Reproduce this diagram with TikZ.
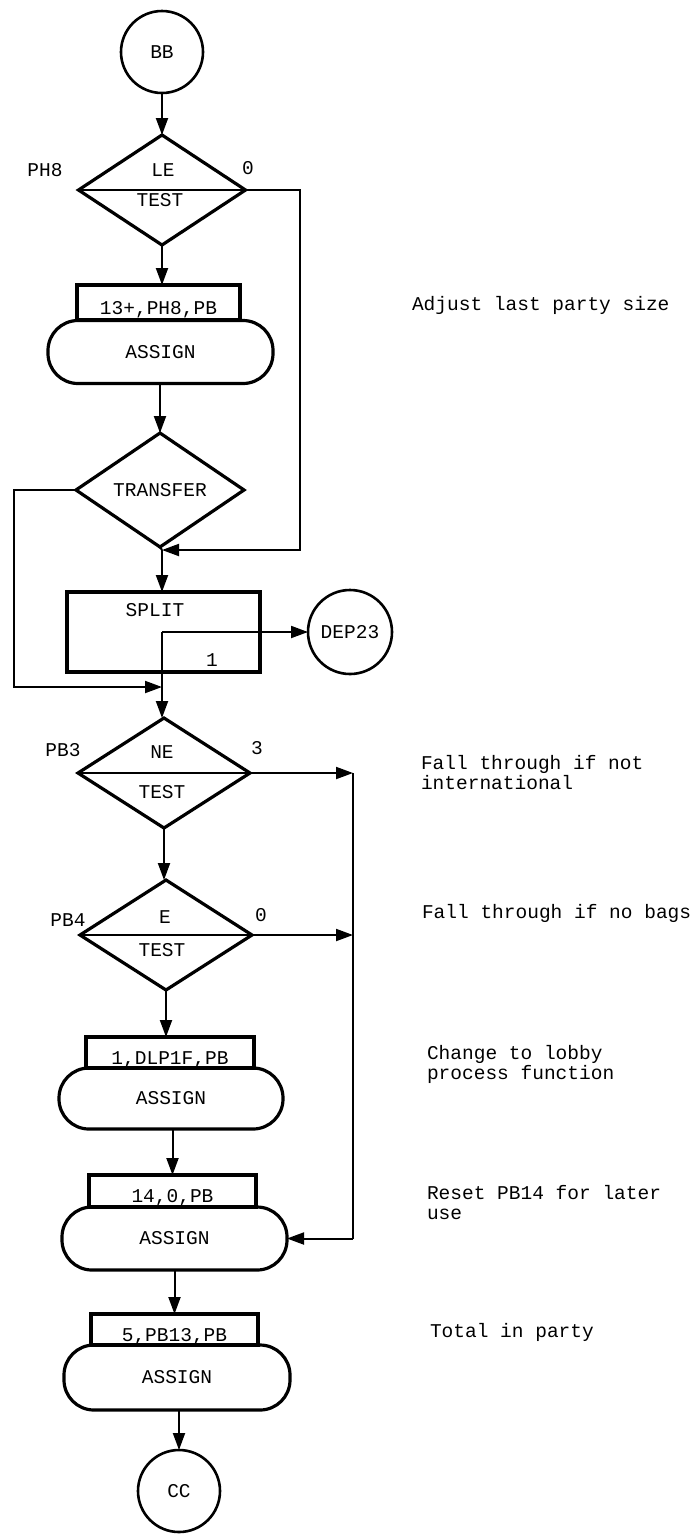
\documentclass[tikz,border=0pt]{standalone}
\usepackage{fontspec}
\setmonofont{Liberation Mono}
\usetikzlibrary{shapes.geometric,arrows.meta}
\begin{document}
\begin{tikzpicture}[x=1pt,y=-1pt,
  every node/.style={font=\ttfamily\fontsize{19.5}{23}\selectfont, inner sep=0pt, outer sep=0pt},
  shp/.style={draw, line width=3.2pt},
  circ/.style={draw, line width=2.6pt, circle, minimum size=#1},
  dia/.style={shp, diamond, minimum width=#1, minimum height=110pt},
  topbox/.style={shp, rectangle, minimum width=167pt, minimum height=32pt, text height=23pt, text depth=0pt},
  stad/.style={shp, rectangle, rounded corners=30pt, minimum width=225pt, minimum height=63pt},
  conn/.style={line width=2pt},
  arr/.style={conn, -{Triangle[length=17pt,width=12pt]}},
  note/.style={anchor=west, align=left, font=\ttfamily\fontsize{19.5}{20}\selectfont}]
\useasboundingbox (0,0) rectangle (699,1535);

% ---------- nodes ----------
\node[circ=82pt] (bb) at (162,52) {BB};

\node[dia=167pt] (d1) at (162,190) {};
\draw[line width=2.6pt] (d1.west) -- (d1.east);
\node (d1a) at (163,170) {LE};
\node (d1b) at (160,200) {TEST};
\node (d1l) at (45,170) {PH8};
\node (d1r) at (248,168) {0};

\node[stad] (a1) at (160.5,352) {ASSIGN};
\node[topbox, minimum width=163pt, minimum height=35pt] (a1t) at (158.5,302.5) {13+,PH8,PB};

\node[shp, diamond, minimum width=168pt, minimum height=114pt] (tr) at (160,490) {TRANSFER};

\node[shp, rectangle, minimum width=193pt, minimum height=80pt] (sp) at (163.5,632) {};
\node (spa) at (155,610) {SPLIT};
\node (spb) at (212,660) {1};
\node[circ=84pt] (dep) at (350,632) {DEP23};

\node[dia=172pt] (pb3) at (164,773) {};
\draw[line width=2.6pt] (pb3.west) -- (pb3.east);
\node (pb3a) at (162,752) {NE};
\node (pb3b) at (162,792) {TEST};
\node (pb3l) at (63,750) {PB3};
\node (pb3r) at (257,748) {3};

\node[dia=172pt] (pb4) at (166,935) {};
\draw[line width=2.6pt] (pb4.west) -- (pb4.east);
\node (pb4a) at (165,917) {E};
\node (pb4b) at (162,950) {TEST};
\node (pb4l) at (68,920) {PB4};
\node (pb4r) at (261,915) {0};

\node[stad, minimum width=224pt, minimum height=61pt] (b2) at (171,1098.5) {ASSIGN};
\node[topbox, minimum width=168pt, minimum height=31pt] (b2t) at (170,1052.5) {1,DLP1F,PB};

\node[stad] (b3) at (174.5,1238.5) {ASSIGN};
\node[topbox] (b3t) at (172.5,1191) {14,0,PB};

\node[stad, minimum width=226pt, minimum height=65pt] (b4) at (177,1377.5) {ASSIGN};
\node[topbox, minimum height=31pt] (b4t) at (174.5,1329.5) {5,PB13,PB};

\node[circ=82pt] (cc) at (179,1491) {CC};

% ---------- annotations ----------
\node[note] (n1) at (412,305) {Adjust last party size};
\node[note] (n2) at (421,773) {Fall through if not\\international};
\node[note] (n3) at (422,913) {Fall through if no bags};
\node[note] (n4) at (427,1064) {Change to lobby\\process function};
\node[note] (n5) at (427,1203) {Reset PB14 for later\\use};
\node[note] (n6) at (430,1332) {Total in party};

% ---------- junction coordinates ----------
\coordinate (j1) at (162,550);
\coordinate (j2) at (162,687);
\coordinate (s1) at (162,632);
\coordinate (r1) at (353,773);
\coordinate (r2) at (353,1238.5);
\coordinate (r3) at (353,935);

% ---------- connectors ----------
\draw[arr] (bb.south) -- (d1.north);
\draw[arr] (d1.south) -- (d1.south |- a1t.north);
\draw[arr] (d1.east) -- ++(54,0) |- (j1);
\draw[arr] (a1.south -| tr.north) -- (tr.north);
\draw[conn] (tr.south) -- (j1);
\draw[arr] (j1) -- (j1 |- sp.north);
\draw[arr] (tr.west) -- (14,490) |- (j2);
\draw[arr] (s1) -- (dep.west);
\draw[arr] (s1) -- (s1 |- pb3.north);
\draw[arr] (pb3.east) -- (r1);
\draw[conn] (r1) -- (r2);
\draw[arr] (r2) -- (b3.east);
\draw[arr] (pb4.east) -- (r3);
\draw[arr] (pb3.south) -- (pb3.south |- pb4.north);
\draw[arr] (pb4.south) -- (pb4.south |- b2t.north);
\draw[arr] (b2.south -| b3t.north) -- (b3t.north);
\draw[arr] (b3.south -| b4t.north) -- (b4t.north);
\draw[arr] (b4.south -| cc.north) -- (cc.north);
\end{tikzpicture}
\end{document}
